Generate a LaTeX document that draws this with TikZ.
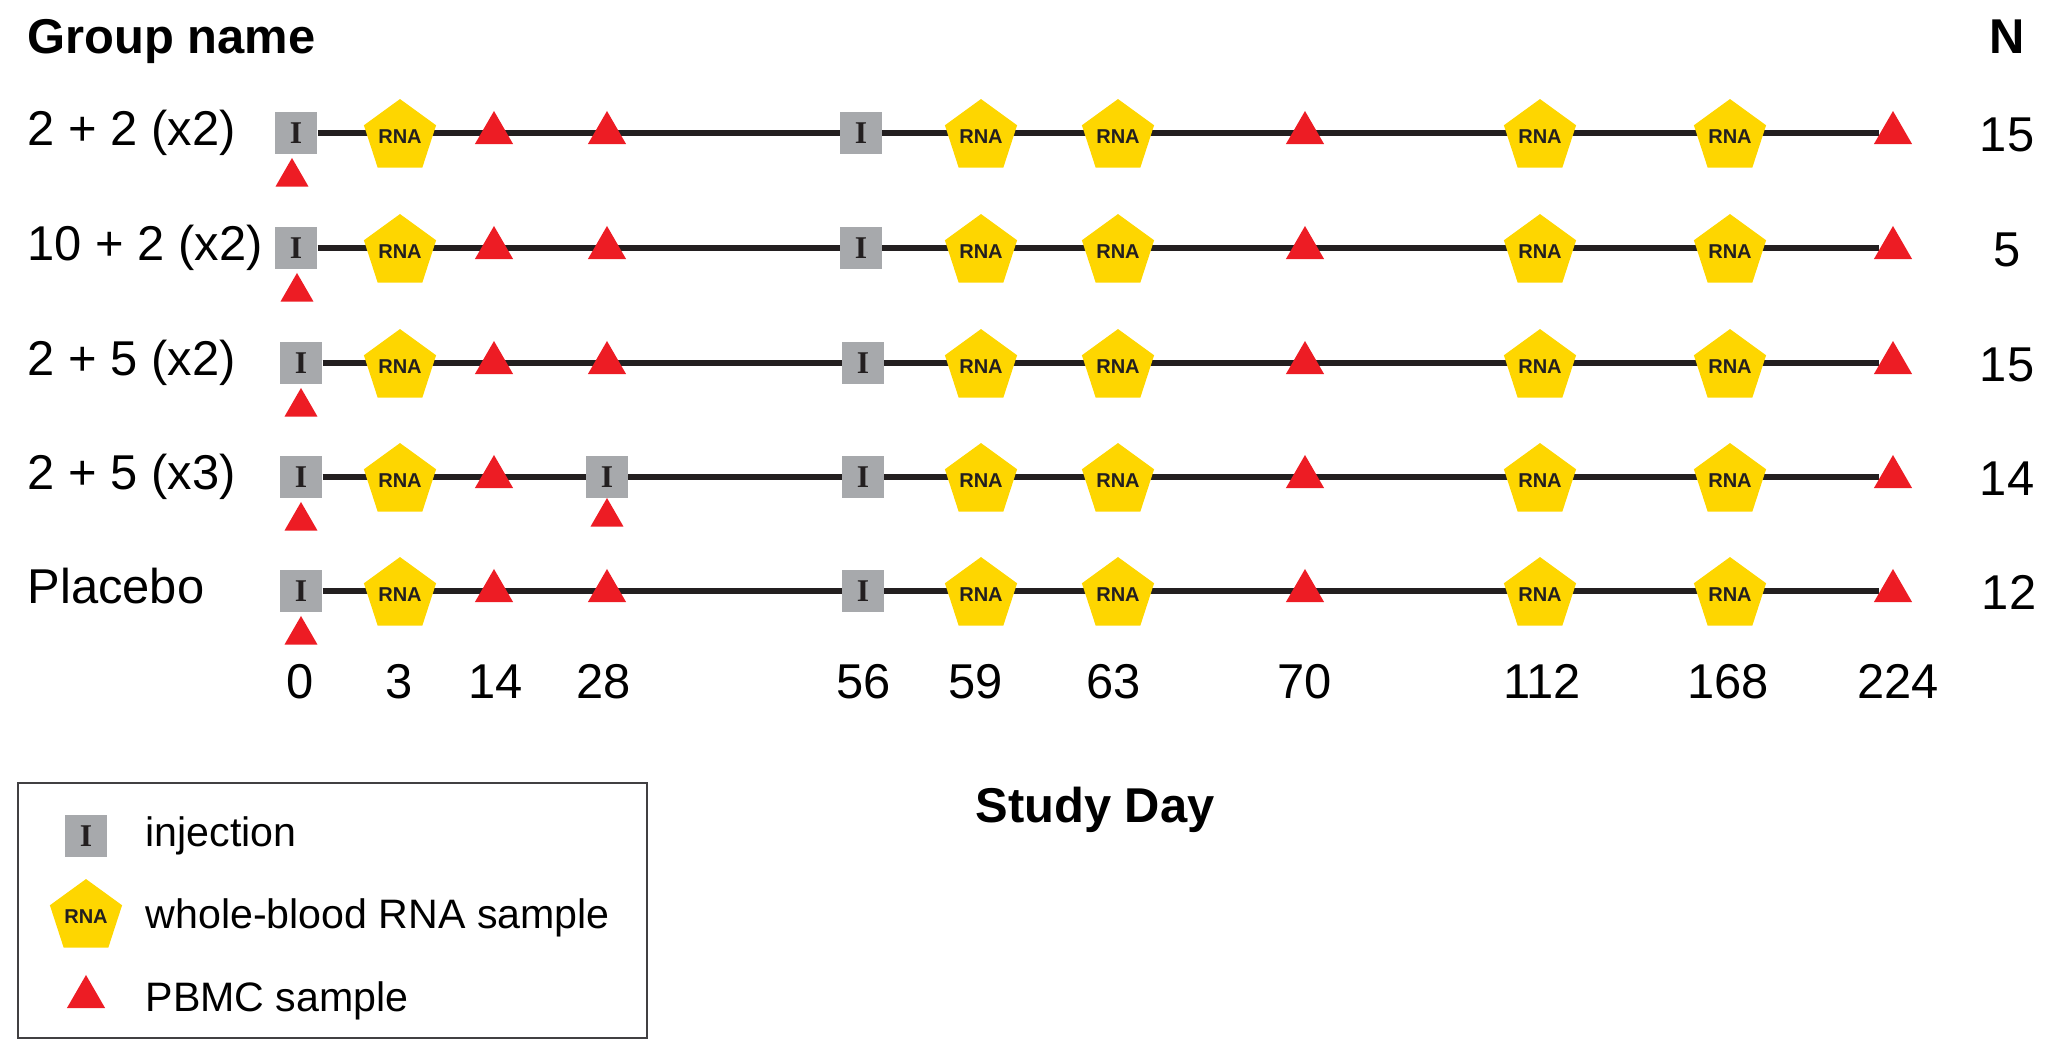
\documentclass[tikz,border=0pt]{standalone}
\usepackage{fontspec}
\setmainfont{Liberation Sans}
\newfontfamily\injfont{Liberation Serif}
\usetikzlibrary{shapes.geometric}
\usetikzlibrary{backgrounds}

\definecolor{injgray}{RGB}{167,169,172}
\definecolor{rnayellow}{RGB}{254,214,0}
\definecolor{pbmcred}{RGB}{237,28,36}
\definecolor{linedark}{RGB}{35,31,32}
\definecolor{boxgray}{RGB}{65,64,66}

\tikzset{
  inj/.style={
    rectangle,
    fill=injgray,
    inner sep=0pt,
    minimum size=0.42cm,
    text=linedark,
    font=\injfont\bfseries\fontsize{9}{9}\selectfont,
  },
  rna/.style={
    regular polygon,
    regular polygon sides=5,
    fill=rnayellow,
    inner sep=0pt,
    minimum size=0.67cm,
    yshift=-0.04cm,
    text=linedark,
    font=\bfseries\fontsize{5.7}{5.7}\selectfont,
  },
  pbmc/.style={
    regular polygon,
    regular polygon sides=3,
    fill=pbmcred,
    inner sep=0pt,
    minimum size=0.44cm,
  },
  pbmcbelow/.style={pbmc, minimum size=0.38cm},
  timeline/.style={linedark, line width=0.06cm},
  grouplabel/.style={anchor=base west, inner sep=0pt, font=\fontsize{13.9}{16}\selectfont},
  countlabel/.style={anchor=base, inner sep=0pt, font=\fontsize{13.9}{16}\selectfont},
  daylabel/.style={anchor=base, inner sep=0pt, font=\fontsize{13.9}{16}\selectfont},
  heading/.style={inner sep=0pt, font=\bfseries\fontsize{13.9}{16}\selectfont},
  legendtext/.style={anchor=base west, inner sep=0pt, font=\fontsize{11.7}{14}\selectfont},
}

\begin{document}
\begin{tikzpicture}[x=0.01cm, y=-0.01cm]
  \useasboundingbox (0,0) rectangle (2056,1057);

  \node[heading, anchor=base west] (title) at (27,53) {Group name};
  \node[heading, anchor=base] (ntitle) at (2007,53) {N};

  % 2 + 2 (x2)
  \node[grouplabel] (ga) at (27,145) {2 + 2 (x2)};
  \node[inj] (a0) at (296,133) {I};
  \node[pbmcbelow] (a0s) at (292,177) {};
  \node[rna] (a3) at (400,133) {RNA};
  \node[pbmc] (a14) at (494,133) {};
  \node[pbmc] (a28) at (607,133) {};
  \node[inj] (a56) at (861,133) {I};
  \node[rna] (a59) at (981,133) {RNA};
  \node[rna] (a63) at (1118,133) {RNA};
  \node[pbmc] (a70) at (1305,133) {};
  \node[rna] (a112) at (1540,133) {RNA};
  \node[rna] (a168) at (1730,133) {RNA};
  \node[pbmc] (a224) at (1893,133) {};
  \node[countlabel] (na) at (2007,151) {15};

  % 10 + 2 (x2)
  \node[grouplabel] (gb) at (27,260) {10 + 2 (x2)};
  \node[inj] (b0) at (296,248) {I};
  \node[pbmcbelow] (b0s) at (297,292) {};
  \node[rna] (b3) at (400,248) {RNA};
  \node[pbmc] (b14) at (494,248) {};
  \node[pbmc] (b28) at (607,248) {};
  \node[inj] (b56) at (861,248) {I};
  \node[rna] (b59) at (981,248) {RNA};
  \node[rna] (b63) at (1118,248) {RNA};
  \node[pbmc] (b70) at (1305,248) {};
  \node[rna] (b112) at (1540,248) {RNA};
  \node[rna] (b168) at (1730,248) {RNA};
  \node[pbmc] (b224) at (1893,248) {};
  \node[countlabel] (nb) at (2007,266) {5};

  % 2 + 5 (x2)
  \node[grouplabel] (gc) at (27,375) {2 + 5 (x2)};
  \node[inj] (c0) at (301,363) {I};
  \node[pbmcbelow] (c0s) at (301,407) {};
  \node[rna] (c3) at (400,363) {RNA};
  \node[pbmc] (c14) at (494,363) {};
  \node[pbmc] (c28) at (607,363) {};
  \node[inj] (c56) at (863,363) {I};
  \node[rna] (c59) at (981,363) {RNA};
  \node[rna] (c63) at (1118,363) {RNA};
  \node[pbmc] (c70) at (1305,363) {};
  \node[rna] (c112) at (1540,363) {RNA};
  \node[rna] (c168) at (1730,363) {RNA};
  \node[pbmc] (c224) at (1893,363) {};
  \node[countlabel] (nc) at (2007,381) {15};

  % 2 + 5 (x3)
  \node[grouplabel] (gd) at (27,489) {2 + 5 (x3)};
  \node[inj] (d0) at (301,477) {I};
  \node[pbmcbelow] (d0s) at (301,521) {};
  \node[rna] (d3) at (400,477) {RNA};
  \node[pbmc] (d14) at (494,477) {};
  \node[inj] (d28) at (607,477) {I};
  \node[pbmcbelow] (d28s) at (607,517) {};
  \node[inj] (d56) at (863,477) {I};
  \node[rna] (d59) at (981,477) {RNA};
  \node[rna] (d63) at (1118,477) {RNA};
  \node[pbmc] (d70) at (1305,477) {};
  \node[rna] (d112) at (1540,477) {RNA};
  \node[rna] (d168) at (1730,477) {RNA};
  \node[pbmc] (d224) at (1893,477) {};
  \node[countlabel] (nd) at (2007,495) {14};

  % Placebo
  \node[grouplabel] (ge) at (27,603) {Placebo};
  \node[inj] (e0) at (301,591) {I};
  \node[pbmcbelow] (e0s) at (301,635) {};
  \node[rna] (e3) at (400,591) {RNA};
  \node[pbmc] (e14) at (494,591) {};
  \node[pbmc] (e28) at (607,591) {};
  \node[inj] (e56) at (863,591) {I};
  \node[rna] (e59) at (981,591) {RNA};
  \node[rna] (e63) at (1118,591) {RNA};
  \node[pbmc] (e70) at (1305,591) {};
  \node[rna] (e112) at (1540,591) {RNA};
  \node[rna] (e168) at (1730,591) {RNA};
  \node[pbmc] (e224) at (1893,591) {};
  \node[countlabel] (ne) at (2009,609) {12};

  \begin{scope}[on background layer]
    \draw[timeline] (a0) -- (a224);
    \draw[timeline] (b0) -- (b224);
    \draw[timeline] (c0) -- (c224);
    \draw[timeline] (d0) -- (d224);
    \draw[timeline] (e0) -- (e224);
  \end{scope}

  \node[daylabel] (t0) at (300,698) {0};
  \node[daylabel] (t3) at (399,698) {3};
  \node[daylabel] (t14) at (496,698) {14};
  \node[daylabel] (t28) at (604,698) {28};
  \node[daylabel] (t56) at (864,698) {56};
  \node[daylabel] (t59) at (976,698) {59};
  \node[daylabel] (t63) at (1114,698) {63};
  \node[daylabel] (t70) at (1305,698) {70};
  \node[daylabel] (t112) at (1542,698) {112};
  \node[daylabel] (t168) at (1728,698) {168};
  \node[daylabel] (t224) at (1898,698) {224};

  \node[heading, anchor=base] (xtitle) at (1095,822) {Study Day};

  % Legend
  \draw[boxgray, line width=0.015cm] (18,783) rectangle (647,1038);
  \node[inj] (kinj) at (86,836) {I};
  \node[legendtext] (tinj) at (145,846) {injection};
  \node[rna] (krna) at (86,913) {RNA};
  \node[legendtext] (trna) at (145,928) {whole-blood RNA sample};
  \node[pbmc] (kpbmc) at (86,997) {};
  \node[legendtext] (tpbmc) at (145,1011) {PBMC sample};
\end{tikzpicture}
\end{document}
